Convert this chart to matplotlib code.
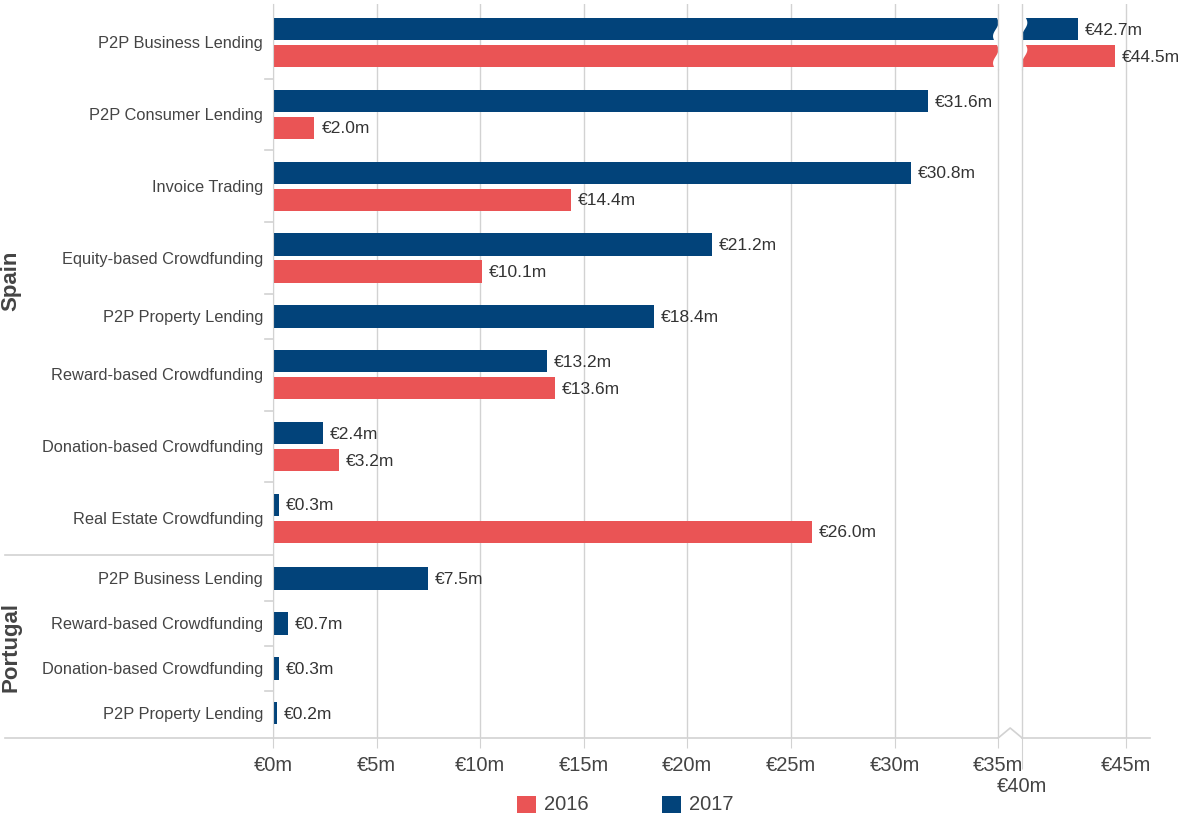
"""Alternative finance volumes, Spain and Portugal, 2016 vs 2017 (broken x axis)."""

import numpy as np
import matplotlib
matplotlib.use("Agg")
import matplotlib.pyplot as plt
from matplotlib.patches import Rectangle, Polygon
from matplotlib.lines import Line2D

plt.rcParams["font.family"] = ["Liberation Sans", "DejaVu Sans"]

# ----------------------------------------------------------------------
# Datos (millones de euros); None = sin dato
# ----------------------------------------------------------------------
groups = ["Spain", "Portugal"]
spain_cats = [
    "P2P Business Lending",
    "P2P Consumer Lending",
    "Invoice Trading",
    "Equity-based Crowdfunding",
    "P2P Property Lending",
    "Reward-based Crowdfunding",
    "Donation-based Crowdfunding",
    "Real Estate Crowdfunding",
]
spain_2017 = [42.7, 31.6, 30.8, 21.2, 18.4, 13.2, 2.4, 0.3]
spain_2016 = [44.5, 2.0, 14.4, 10.1, None, 13.6, 3.2, 26.0]

portugal_cats = [
    "P2P Business Lending",
    "Reward-based Crowdfunding",
    "Donation-based Crowdfunding",
    "P2P Property Lending",
]
portugal_2017 = [7.5, 0.7, 0.3, 0.2]
portugal_2016 = [None, None, None, None]

x_ticks = [0, 5, 10, 15, 20, 25, 30, 35, 40, 45]
series_names = ["2016", "2017"]

BLUE = "#02437a"
RED = "#ea5455"
GRID = "#d2d2d2"
TEXT = "#444444"

# ----------------------------------------------------------------------
# Escala con corte entre 35m y 40m
# ----------------------------------------------------------------------
K = 0.2313  # compresión del tramo 35-40


def fwd(x):
    x = np.asarray(x, dtype=float)
    return np.where(x <= 35, x,
                    np.where(x <= 40, 35 + (x - 35) * K, 35 + 5 * K + (x - 40)))


def inv(y):
    y = np.asarray(y, dtype=float)
    return np.where(y <= 35, y,
                    np.where(y <= 35 + 5 * K, 35 + (y - 35) / K, y - 5 * K + 5))


# ----------------------------------------------------------------------
# Posiciones verticales (unidades ~ px)
# ----------------------------------------------------------------------
BAR_H = 22.5
PITCH = 27.0
PAD = 11.2
GROUP_GAP = 2.0
TOP = 7.8

rows = []         # (y, valor, color)
cat_centers = []  # (y, etiqueta)
boundaries = []   # límites entre categorías dentro de un grupo
group_spans = []  # (inicio, fin, nombre)
y = TOP
for gi, (name, cats, v17, v16) in enumerate([
        ("Spain", spain_cats, spain_2017, spain_2016),
        ("Portugal", portugal_cats, portugal_2017, portugal_2016)]):
    g_start = y - (GROUP_GAP / 2 if gi else 2.8)
    for ci, (cat, a, b) in enumerate(zip(cats, v17, v16)):
        vals = [(a, BLUE), (b, RED)]
        vals = [(v, c) for v, c in vals if v is not None]
        c_start = y
        yy = y + PAD
        for v, c in vals:
            rows.append((yy + BAR_H / 2, v, c))
            yy += PITCH
        c_end = yy - (PITCH - BAR_H) + PAD
        cat_centers.append(((c_start + c_end) / 2, cat))
        if ci > 0:
            boundaries.append(c_start)
        y = c_end
    group_spans.append((g_start, y + GROUP_GAP / 2, name))
    y += GROUP_GAP
Y_BOTTOM = y + 0.4
Y_TOP = TOP - 2.8

# ----------------------------------------------------------------------
# Figura
# ----------------------------------------------------------------------
W, H = 1180, 820
fig = plt.figure(figsize=(W / 100, H / 100), dpi=100)
ax_l, ax_r, ax_t, ax_b = 273, 1150, 5, 739
ax = fig.add_axes([ax_l / W, 1 - ax_b / H, (ax_r - ax_l) / W, (ax_b - ax_t) / H])

ax.set_xscale("function", functions=(fwd, inv))
ax.set_xlim(0, 46.17)
ax.set_ylim(Y_BOTTOM, Y_TOP)

for yc, v, c in rows:
    ax.barh(yc, v, height=BAR_H, color=c, zorder=2)
    ax.annotate(f"€{v:.1f}m", (v, yc), xytext=(5, 0), textcoords="offset points",
                va="center", ha="left", fontsize=12.5, color="#333333", zorder=5)

# rejilla vertical
ax.set_xticks(x_ticks)
ax.set_xticklabels([f"€{t}m" for t in x_ticks])
ax.grid(axis="x", color=GRID, linewidth=1, zorder=0)
ax.set_axisbelow(True)
ax.tick_params(axis="x", length=7, color=GRID, labelsize=14.5, labelcolor=TEXT, pad=5)
for t, tick in zip(x_ticks, ax.xaxis.get_major_ticks()):
    if t == 40:
        # etiqueta desplazada hacia abajo para no chocar con €35m
        tick.set_pad(20.5)
        tick.tick1line.set_markersize(22)

ax.set_yticks([])
for s in ["top", "right"]:
    ax.spines[s].set_visible(False)
ax.spines["left"].set_color(GRID)
ax.spines["bottom"].set_visible(False)

# corte en las barras superiores (eje lineal superpuesto)
first_row_top = rows[0][0] - BAR_H / 2 - 2
first_row_bot = rows[1][0] + BAR_H / 2 + 2
wave_y = np.linspace(first_row_top, first_row_bot, 60)
amp = 0.13
wave = amp * np.sin((wave_y - first_row_top) / PITCH * 2 * np.pi)
wl = 35 - 0.12 + wave
wr = float(fwd(40)) + 0.12 + wave
poly_x = np.concatenate([wl, wr[::-1]])
poly_y = np.concatenate([wave_y, wave_y[::-1]])
ax_lin = fig.add_axes(ax.get_position(), frameon=False)
ax_lin.set_xlim(0, float(fwd(46.17)))
ax_lin.set_ylim(ax.get_ylim())
ax_lin.axis("off")
ax_lin.add_patch(Polygon(np.column_stack([poly_x, poly_y]), closed=True,
                         facecolor="white", edgecolor="none", zorder=3))
for xv in (35, float(fwd(40))):
    ax_lin.plot([xv, xv], [first_row_top, first_row_bot], color=GRID, lw=1, zorder=4)

# eje inferior con marca de corte
fx = lambda px: px / W
fy = lambda py: 1 - py / H
x35 = ax_l + 35 * (ax_r - ax_l) / float(fwd(46.17))
x40 = ax_l + float(fwd(40)) * (ax_r - ax_l) / float(fwd(46.17))
fig.add_artist(Line2D([fx(5), fx(x35)], [fy(ax_b), fy(ax_b)], color=GRID, lw=1.2))
fig.add_artist(Line2D([fx(x40), fx(ax_r)], [fy(ax_b), fy(ax_b)], color=GRID, lw=1.2))
fig.add_artist(Line2D([fx(x35), fx((x35 + x40) / 2), fx(x40)],
                      [fy(ax_b), fy(ax_b - 10), fy(ax_b)], color=GRID, lw=1.2))

# etiquetas de categoría y marcas
ylim = ax.get_ylim()


def to_px(yv):
    return ax_t + (yv - ylim[1]) / (ylim[0] - ylim[1]) * (ax_b - ax_t)


for yc, lab in cat_centers:
    fig.text(fx(263), fy(to_px(yc)), lab, ha="right", va="center",
             fontsize=11.8, color=TEXT)
for yb in boundaries:
    fig.add_artist(Line2D([fx(265), fx(ax_l)], [fy(to_px(yb)), fy(to_px(yb))],
                          color=GRID, lw=1.2))

# separador entre grupos y nombres de grupo
sep = group_spans[0][1]
fig.add_artist(Line2D([fx(5), fx(ax_l)], [fy(to_px(sep)), fy(to_px(sep))],
                      color=GRID, lw=1.2))
for g0, g1, name in group_spans:
    fig.text(fx(11), fy((to_px(max(g0, ylim[1])) + to_px(g1)) / 2), name,
             rotation=90, ha="center", va="center", fontsize=16,
             fontweight="bold", color=TEXT)

# leyenda
for x0, color, name in [(517, RED, series_names[0]), (662, BLUE, series_names[1])]:
    fig.add_artist(Rectangle((fx(x0), fy(814)), 19 / W, 17 / H,
                             facecolor=color, edgecolor="none"))
    fig.text(fx(x0 + 27), fy(805), name, ha="left", va="center",
             fontsize=14.5, color=TEXT)

fig.savefig("out.png", dpi=100)
